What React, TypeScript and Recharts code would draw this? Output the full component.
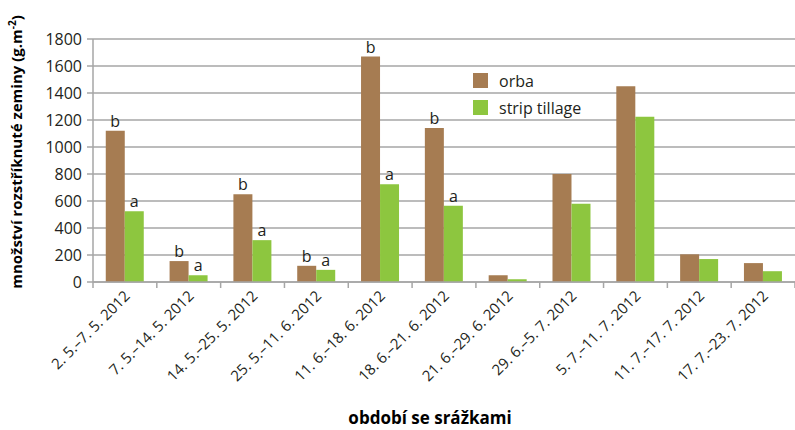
import { BarChart, Bar, XAxis, YAxis, CartesianGrid, LabelList, Label } from 'recharts'

const categories = [
  '2. 5.–7. 5. 2012',
  '7. 5.–14. 5. 2012',
  '14. 5.–25. 5. 2012',
  '25. 5.–11. 6. 2012',
  '11. 6.–18. 6. 2012',
  '18. 6.–21. 6. 2012',
  '21. 6.–29. 6. 2012',
  '29. 6.–5. 7. 2012',
  '5. 7.–11. 7. 2012',
  '11. 7.–17. 7. 2012',
  '17. 7.–23. 7. 2012',
]
const orba = [1120, 155, 650, 120, 1670, 1140, 50, 800, 1450, 205, 140]
const stripTillage = [525, 50, 310, 90, 725, 565, 20, 580, 1225, 170, 80]
const orbaLetters = ['b', 'b', 'b', 'b', 'b', 'b', '', '', '', '', '']
const stripLetters = ['a', 'a', 'a', 'a', 'a', 'a', '', '', '', '', '']
const yTicks = [0, 200, 400, 600, 800, 1000, 1200, 1400, 1600, 1800]
const legendItems = [
  { label: 'orba', color: '#a67c52' },
  { label: 'strip tillage', color: '#8dc63f' },
]

const data = categories.map((c, i) => ({
  name: c,
  orba: orba[i],
  strip: stripTillage[i],
  orbaLetter: orbaLetters[i],
  stripLetter: stripLetters[i],
}))

const W = 795
const H = 430
const LEFT = 93
const BAND = (W - LEFT) / categories.length
const FONT = '"Open Sans", sans-serif'
const TEXT = '#231f20'
const GRID = '#a6a6a6'

const XTick = (props: any) => {
  const { x, y, payload, index } = props
  const half = BAND / 2
  const tx = x + 6
  const ty = y + 15
  return (
    <g>
      <line x1={x - half} y1={y} x2={x - half} y2={y + 6} stroke={GRID} strokeWidth={1.5} />
      {index === categories.length - 1 && (
        <line x1={x + half} y1={y} x2={x + half} y2={y + 6} stroke={GRID} strokeWidth={1.5} />
      )}
      <text
        x={tx}
        y={ty}
        transform={`rotate(-45, ${tx}, ${ty})`}
        textAnchor="end"
        fontSize={15}
        fontFamily={FONT}
        fill={TEXT}
      >
        {payload.value}
      </text>
    </g>
  )
}

const YTitle = (props: any) => {
  const { viewBox } = props
  const cx = viewBox.x + 22
  const cy = 152
  return (
    <text
      x={cx}
      y={cy}
      transform={`rotate(-90, ${cx}, ${cy})`}
      textAnchor="middle"
      fontSize={15}
      fontWeight="bold"
      fontFamily={FONT}
      fill="#000"
    >
      množství rozstříknuté zeminy (g.m
      <tspan dy={-6} fontSize={10}>-2</tspan>
      <tspan dy={6}>)</tspan>
    </text>
  )
}

const XTitle = () => (
  <text x={430} y={424} textAnchor="middle" fontSize={17} fontWeight="bold" fontFamily={FONT} fill="#000">
    období se srážkami
  </text>
)

export default function App() {
  return (
    <div style={{ position: 'absolute', left: 0, top: 0, width: W, height: H, background: '#fff' }}>
      <BarChart
        width={W}
        height={H}
        data={data}
        margin={{ top: 39, right: 0, left: 0, bottom: 0 }}
        barCategoryGap="20%"
        barGap={0}
      >
        <CartesianGrid vertical={false} stroke={GRID} strokeWidth={1.5} />
        <XAxis
          dataKey="name"
          height={148}
          interval={0}
          tickLine={false}
          tickSize={0}
          tickMargin={0}
          axisLine={{ stroke: GRID, strokeWidth: 1.5 }}
          tick={<XTick />}
        >
          <Label content={<XTitle />} />
        </XAxis>
        <YAxis
          width={LEFT}
          domain={[0, 1800]}
          ticks={yTicks}
          interval={0}
          tickSize={6}
          tickMargin={5}
          tickLine={{ stroke: GRID, strokeWidth: 1.5 }}
          axisLine={{ stroke: GRID, strokeWidth: 1.5 }}
          tick={{ fontSize: 16, fill: TEXT, fontFamily: FONT }}
        >
          <Label content={<YTitle />} />
        </YAxis>
        <Bar dataKey="orba" name="orba" fill="#a67c52" isAnimationActive={false}>
          <LabelList dataKey="orbaLetter" position="top" offset={4} fill={TEXT} fontSize={16} fontFamily={FONT} />
        </Bar>
        <Bar dataKey="strip" name="strip tillage" fill="#8dc63f" isAnimationActive={false}>
          <LabelList dataKey="stripLetter" position="top" offset={4} fill={TEXT} fontSize={16} fontFamily={FONT} />
        </Bar>
      </BarChart>
      <div style={{ position: 'absolute', left: 473, top: 67, fontFamily: FONT, fontSize: 16, color: TEXT }}>
        {legendItems.map((it) => (
          <div key={it.label} style={{ display: 'flex', alignItems: 'center', height: 27 }}>
            <span style={{ width: 15, height: 15, background: it.color, display: 'inline-block', marginRight: 11 }} />
            <span>{it.label}</span>
          </div>
        ))}
      </div>
    </div>
  )
}
